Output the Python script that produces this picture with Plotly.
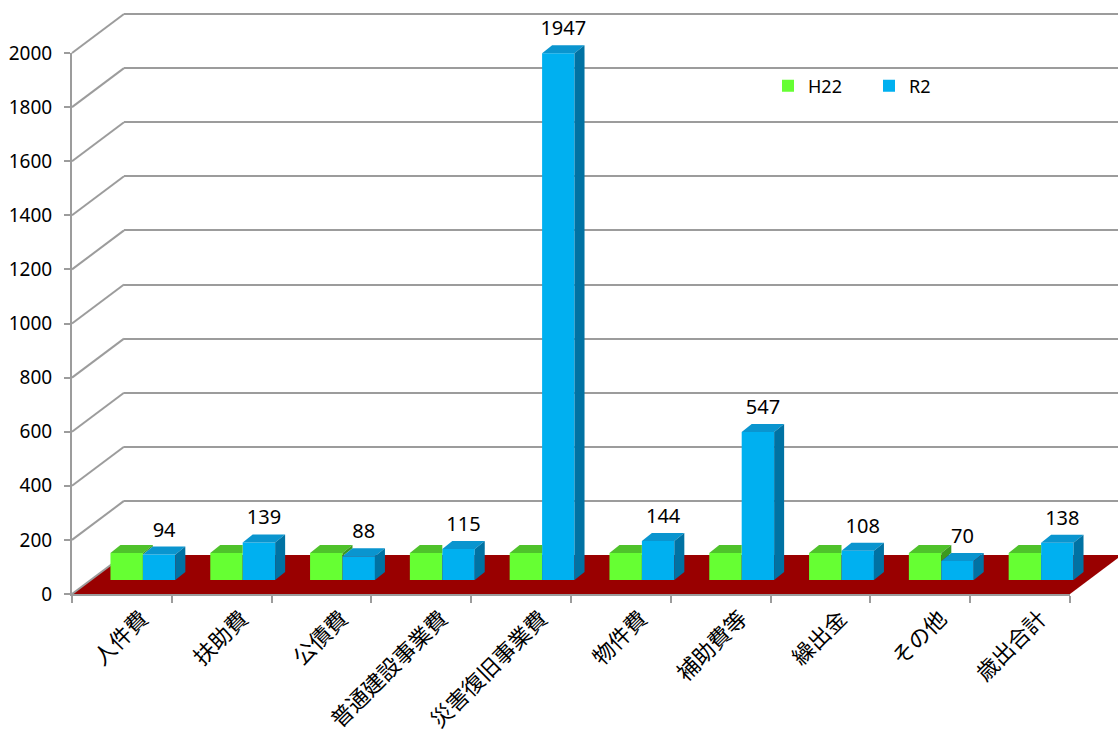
import plotly.graph_objects as go

# ---------------- data ----------------
categories = ["人件費", "扶助費", "公債費", "普通建設事業費", "災害復旧事業費",
              "物件費", "補助費等", "繰出金", "その他", "歳出合計"]
h22_values = [100, 100, 100, 100, 100, 100, 100, 100, 100, 100]
r2_values = [94, 139, 88, 115, 1947, 144, 547, 108, 70, 138]
y_ticks = list(range(0, 2001, 200))

# ---------------- geometry (pixels) ----------------
W, H = 1118, 747
def fx(p): return p / W
def fy(p): return (H - p) / H

FRONT_L, FRONT_R, FRONT_B, FRONT_T = 72, 1070, 594, 53     # front plane of the axes
BACK_DX, BACK_DY = 52, 39                                  # depth of the back wall
BAR_DX, BAR_DY = 21, 14                                    # where bars stand on the floor
Y_MAX = 2000
Y_PAD = 40                                                 # extra range so top gridline shows
px_per_unit_y = (FRONT_B - FRONT_T) / Y_MAX
px_per_cat = (FRONT_R - FRONT_L) / len(categories)

# 3D face depth in data units
DEPTH_X = 10 / px_per_cat
DEPTH_Y = 8 / px_per_unit_y
LABEL_GAP = 5 / px_per_unit_y

BAR_W = 0.325
GREEN, GREEN_TOP, GREEN_SIDE = "#66ff33", "#4fc22b", "#3c9a20"
BLUE, BLUE_TOP, BLUE_SIDE = "#00b0f0", "#0a95cf", "#0072a3"
GRID = "#9c9c9c"
FONT = "Noto Sans, Noto Sans CJK JP, sans-serif"

fig = go.Figure()

# main (back wall) subplot - only gridlines
fig.add_trace(go.Scatter(x=[0], y=[0], mode="markers", marker=dict(opacity=0),
                         showlegend=False, hoverinfo="skip", xaxis="x", yaxis="y"))
# front axes subplot (y tick labels, category labels)
fig.add_trace(go.Scatter(x=categories, y=[0] * len(categories), mode="markers",
                         marker=dict(opacity=0), showlegend=False, hoverinfo="skip",
                         xaxis="x2", yaxis="y2"))

xs = list(range(len(categories)))
g_center = [i - BAR_W / 2 for i in xs]
b_center = [i + BAR_W / 2 for i in xs]

# front faces
fig.add_trace(go.Bar(x=g_center, y=h22_values, width=BAR_W, name="H22",
                     marker=dict(color=GREEN, line=dict(width=0)),
                     xaxis="x3", yaxis="y3"))
fig.add_trace(go.Bar(x=b_center, y=r2_values, width=BAR_W, name="R2",
                     marker=dict(color=BLUE, line=dict(width=0)),
                     xaxis="x3", yaxis="y3"))

def poly(xv, yv, color):
    fig.add_trace(go.Scatter(x=xv + [xv[0]], y=yv + [yv[0]], mode="lines", fill="toself",
                             fillcolor=color, line=dict(width=0, color=color),
                             showlegend=False, hoverinfo="skip", xaxis="x3", yaxis="y3"))

# green top / side faces
for i, (g, b) in enumerate(zip(h22_values, r2_values)):
    x0, x1 = g_center[i] - BAR_W / 2, g_center[i] + BAR_W / 2
    if b > g:
        poly([x0, x1, x1, x0 + DEPTH_X], [g, g, g + DEPTH_Y, g + DEPTH_Y], GREEN_TOP)
    else:
        poly([x0, x1, x1 + DEPTH_X, x0 + DEPTH_X], [g, g, g + DEPTH_Y, g + DEPTH_Y], GREEN_TOP)
        poly([x1, x1, x1 + DEPTH_X, x1 + DEPTH_X], [b, g, g + DEPTH_Y, b + DEPTH_Y], GREEN_SIDE)

# blue top / side faces
for i, b in enumerate(r2_values):
    x0, x1 = b_center[i] - BAR_W / 2, b_center[i] + BAR_W / 2
    poly([x0, x1, x1 + DEPTH_X, x0 + DEPTH_X], [b, b, b + DEPTH_Y, b + DEPTH_Y], BLUE_TOP)
    poly([x1, x1, x1 + DEPTH_X, x1 + DEPTH_X], [0, b, b + DEPTH_Y, DEPTH_Y], BLUE_SIDE)

# value labels for R2
fig.add_trace(go.Scatter(x=[c + DEPTH_X / 2 for c in b_center],
                         y=[v + DEPTH_Y + LABEL_GAP for v in r2_values],
                         text=[str(v) for v in r2_values], mode="text",
                         textposition="top center",
                         textfont=dict(size=20, color="#000000", family=FONT),
                         showlegend=False, hoverinfo="skip", cliponaxis=False,
                         xaxis="x3", yaxis="y3"))

# ---------------- decorations ----------------
shapes = []
floor_path = (f"M {fx(FRONT_L)},{fy(FRONT_B)} L {fx(FRONT_R)},{fy(FRONT_B)} "
              f"L {fx(FRONT_R + BACK_DX)},{fy(FRONT_B - BACK_DY)} "
              f"L {fx(FRONT_L + BACK_DX)},{fy(FRONT_B - BACK_DY)} Z")
shapes.append(dict(type="path", path=floor_path, xref="paper", yref="paper",
                   fillcolor="#990000", line=dict(width=0), layer="below"))
for t in y_ticks:
    yp = FRONT_B - t * px_per_unit_y
    shapes.append(dict(type="line", xref="paper", yref="paper",
                       x0=fx(FRONT_L), y0=fy(yp), x1=fx(FRONT_L + BACK_DX), y1=fy(yp - BACK_DY),
                       line=dict(color=GRID, width=2), layer="below"))

pad_px = Y_PAD * px_per_unit_y

fig.update_layout(
    width=W, height=H,
    margin=dict(l=0, r=0, t=0, b=0, autoexpand=False),
    paper_bgcolor="white", plot_bgcolor="rgba(0,0,0,0)",
    font=dict(family=FONT, color="#000000"),
    barmode="overlay",
    shapes=shapes,
    showlegend=True,
    legend=dict(orientation="h", x=fx(768), y=fy(86), xanchor="left", yanchor="middle",
                font=dict(size=18, family=FONT), bgcolor="rgba(0,0,0,0)",
                entrywidth=56, traceorder="normal"),
    # back wall
    xaxis=dict(domain=[fx(FRONT_L + BACK_DX), 1.0], range=[0, 1], visible=False),
    yaxis=dict(domain=[fy(FRONT_B - BACK_DY), fy(FRONT_T - BACK_DY - pad_px)],
               range=[0, Y_MAX + Y_PAD],
               tickvals=y_ticks, showgrid=True, gridcolor=GRID, gridwidth=2,
               showticklabels=False, zeroline=False, showline=False, anchor="x"),
    # front axes
    xaxis2=dict(domain=[fx(FRONT_L), fx(FRONT_R)], type="category", range=[-0.5, 9.5],
                tickson="boundaries", ticks="outside", ticklen=7, tickwidth=2, tickcolor=GRID,
                showline=True, linecolor=GRID, linewidth=2, showgrid=False,
                tickangle=-45, ticklabelshift=20, ticklabelstandoff=1,
                tickfont=dict(size=22, family=FONT), anchor="y2"),
    yaxis2=dict(domain=[fy(FRONT_B), fy(FRONT_T)], range=[0, Y_MAX], tickvals=y_ticks,
                ticks="outside", ticklen=6, tickwidth=2, tickcolor=GRID,
                showline=True, linecolor=GRID, linewidth=2, showgrid=False, zeroline=False,
                ticklabelstandoff=8,
                tickfont=dict(size=19, family=FONT), anchor="x2"),
    # bars
    xaxis3=dict(domain=[fx(FRONT_L + BAR_DX), fx(FRONT_R + BAR_DX)], range=[-0.5, 9.5],
                visible=False, anchor="y3"),
    yaxis3=dict(domain=[fy(FRONT_B - BAR_DY), fy(FRONT_T - BAR_DY)], range=[0, Y_MAX],
                visible=False, anchor="x3"),
)

fig.write_html("out.html")
